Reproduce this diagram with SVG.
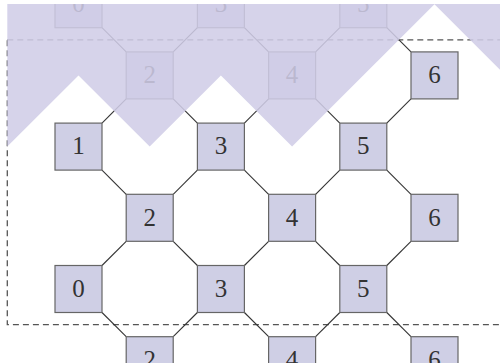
<svg xmlns="http://www.w3.org/2000/svg" width="500" height="363" viewBox="0 0 500 363">
<style>
.nd rect{fill:#cfcfe5;stroke:#666;stroke-width:1.2}
.nd text{font-family:"Liberation Serif","DejaVu Serif",serif;font-size:25px;fill:#333;text-anchor:middle}
#connectors line{stroke:#333;stroke-width:1.1}
.frame{fill:none;stroke:#555;stroke-width:1.3;stroke-dasharray:6 4}
.overlay{fill:rgb(208,205,231);fill-opacity:0.87}
</style>
<defs>
<clipPath id="clip"><rect x="0" y="4" width="500" height="359"/></clipPath>
</defs>
<rect width="500" height="363" fill="#fff"/>
<g clip-path="url(#clip)">
<rect class="frame" x="7.3" y="39.8" width="498.4" height="284.8"/>
<g id="connectors">
<line x1="102" y1="27.7" x2="126.2" y2="51.9"/>
<line x1="244.4" y1="27.7" x2="268.6" y2="51.9"/>
<line x1="386.8" y1="27.7" x2="411" y2="51.9"/>
<line x1="173.2" y1="98.9" x2="197.4" y2="123.1"/>
<line x1="315.6" y1="98.9" x2="339.8" y2="123.1"/>
<line x1="102" y1="170.1" x2="126.2" y2="194.3"/>
<line x1="244.4" y1="170.1" x2="268.6" y2="194.3"/>
<line x1="386.8" y1="170.1" x2="411" y2="194.3"/>
<line x1="173.2" y1="241.3" x2="197.4" y2="265.5"/>
<line x1="315.6" y1="241.3" x2="339.8" y2="265.5"/>
<line x1="102" y1="312.5" x2="126.2" y2="336.7"/>
<line x1="244.4" y1="312.5" x2="268.6" y2="336.7"/>
<line x1="386.8" y1="312.5" x2="411" y2="336.7"/>
<line x1="197.4" y1="27.7" x2="173.2" y2="51.9"/>
<line x1="339.8" y1="27.7" x2="315.6" y2="51.9"/>
<line x1="126.2" y1="98.9" x2="102" y2="123.1"/>
<line x1="268.6" y1="98.9" x2="244.4" y2="123.1"/>
<line x1="411" y1="98.9" x2="386.8" y2="123.1"/>
<line x1="197.4" y1="170.1" x2="173.2" y2="194.3"/>
<line x1="339.8" y1="170.1" x2="315.6" y2="194.3"/>
<line x1="126.2" y1="241.3" x2="102" y2="265.5"/>
<line x1="268.6" y1="241.3" x2="244.4" y2="265.5"/>
<line x1="411" y1="241.3" x2="386.8" y2="265.5"/>
<line x1="197.4" y1="312.5" x2="173.2" y2="336.7"/>
<line x1="339.8" y1="312.5" x2="315.6" y2="336.7"/>
</g>
<g id="n0a" class="nd"><rect x="55" y="-19.3" width="47" height="47"/><text x="78.5" y="11.9">0</text></g>
<g id="n3a" class="nd"><rect x="197.4" y="-19.3" width="47" height="47"/><text x="220.9" y="11.9">3</text></g>
<g id="n5a" class="nd"><rect x="339.8" y="-19.3" width="47" height="47"/><text x="363.3" y="11.9">5</text></g>
<g id="n2a" class="nd"><rect x="126.2" y="51.9" width="47" height="47"/><text x="149.7" y="83.1">2</text></g>
<g id="n4a" class="nd"><rect x="268.6" y="51.9" width="47" height="47"/><text x="292.1" y="83.1">4</text></g>
<g id="n6a" class="nd"><rect x="411" y="51.9" width="47" height="47"/><text x="434.5" y="83.1">6</text></g>
<g id="n1" class="nd"><rect x="55" y="123.1" width="47" height="47"/><text x="78.5" y="154.3">1</text></g>
<g id="n3b" class="nd"><rect x="197.4" y="123.1" width="47" height="47"/><text x="220.9" y="154.3">3</text></g>
<g id="n5b" class="nd"><rect x="339.8" y="123.1" width="47" height="47"/><text x="363.3" y="154.3">5</text></g>
<g id="n2b" class="nd"><rect x="126.2" y="194.3" width="47" height="47"/><text x="149.7" y="225.5">2</text></g>
<g id="n4b" class="nd"><rect x="268.6" y="194.3" width="47" height="47"/><text x="292.1" y="225.5">4</text></g>
<g id="n6b" class="nd"><rect x="411" y="194.3" width="47" height="47"/><text x="434.5" y="225.5">6</text></g>
<g id="n0b" class="nd"><rect x="55" y="265.5" width="47" height="47"/><text x="78.5" y="296.7">0</text></g>
<g id="n3c" class="nd"><rect x="197.4" y="265.5" width="47" height="47"/><text x="220.9" y="296.7">3</text></g>
<g id="n5c" class="nd"><rect x="339.8" y="265.5" width="47" height="47"/><text x="363.3" y="296.7">5</text></g>
<g id="n2c" class="nd"><rect x="126.2" y="336.7" width="47" height="47"/><text x="149.7" y="367.9">2</text></g>
<g id="n4c" class="nd"><rect x="268.6" y="336.7" width="47" height="47"/><text x="292.1" y="367.9">4</text></g>
<g id="n6c" class="nd"><rect x="411" y="336.7" width="47" height="47"/><text x="434.5" y="367.9">6</text></g>
<polygon class="overlay" points="7.3,0 7.3,146.6 78.5,75.4 149.7,146.6 220.9,75.4 292.1,146.6 434.5,4.2 505.7,75.4 505.7,0"/>
</g>
</svg>
